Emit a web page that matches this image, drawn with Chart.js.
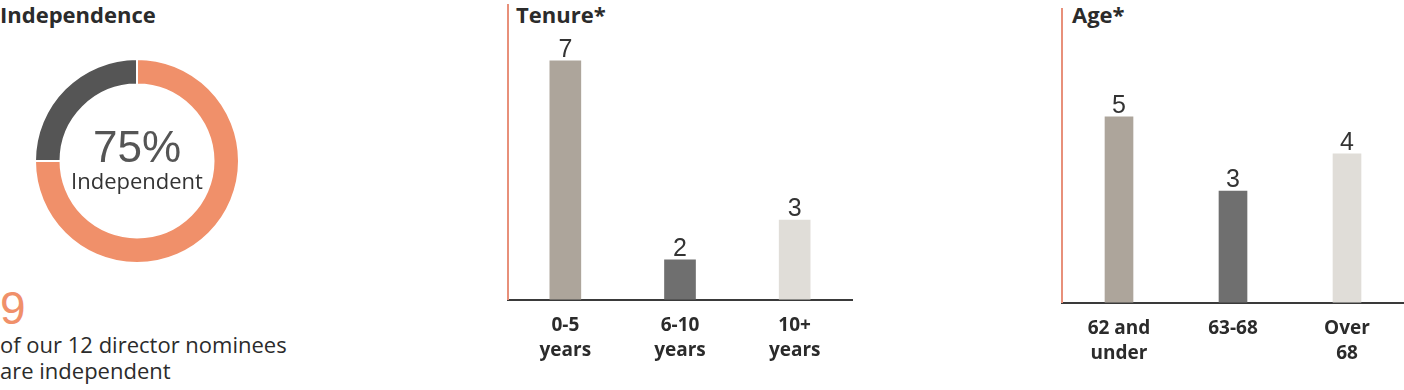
<!DOCTYPE html>
<html>
<head>
<meta charset="utf-8">
<script src="https://cdn.jsdelivr.net/npm/chart.js@4/dist/chart.umd.min.js"></script>
<style>
  body { margin: 0; background: #fff; width: 1404px; height: 390px; position: relative; overflow: hidden; font-family: "Open Sans", "Liberation Sans", Arial, sans-serif; color: #333; }
  .abs { position: absolute; }
  .title { font-weight: bold; font-size: 22px; color: #2b2b2b; white-space: nowrap; line-height: 28px; }
  .num { font-family: "Liberation Sans", Arial, sans-serif; }
  canvas { position: absolute; }
</style>
</head>
<body>
  <div class="abs title" style="left:0; top:0;">Independence</div>
  <canvas id="donut" width="206" height="206" style="left:34px; top:58px;"></canvas>
  <div class="abs num" id="center-pct" style="left:37px; width:200px; top:123px; text-align:center; font-size:44px; color:#555; line-height:48px;"></div>
  <div class="abs" id="center-lbl" style="left:37px; width:200px; top:166px; text-align:center; font-size:22px; color:#333; line-height:28px;">Independent</div>
  <div class="abs num" id="big-num" style="left:0; top:284px; font-size:46px; color:#F0906A; line-height:48px;"></div>
  <div class="abs" style="left:0; top:331px; font-size:22px; color:#2b2b2b; line-height:26px;">of our 12 director nominees<br>are independent</div>

  <div class="abs title" style="left:516px; top:0;">Tenure*</div>
  <canvas id="tenure" width="360" height="390" style="left:500px; top:0;"></canvas>

  <div class="abs title" style="left:1072px; top:0;">Age*</div>
  <canvas id="age" width="350" height="390" style="left:1054px; top:0;"></canvas>

<script>
// === Data ===
const independenceLabels = ['Independent', 'Not independent'];
const independenceValues = [9, 3];
const totalNominees = 12;

const tenureLabels = [['0-5', 'years'], ['6-10', 'years'], ['10+', 'years']];
const tenureValues = [7, 2, 3];

const ageLabels = [['62 and', 'under'], ['63-68'], ['Over', '68']];
const ageValues = [5, 3, 4];

const barColors = ['#ADA59B', '#6F6F6F', '#E0DDD8'];
const fontFamily = '"Open Sans", "Liberation Sans", Arial, sans-serif';

// angka di atas batang
const valueLabels = {
  id: 'valueLabels',
  afterDatasetsDraw(chart) {
    const ctx = chart.ctx;
    const meta = chart.getDatasetMeta(0);
    ctx.save();
    ctx.font = '25px "Liberation Sans", Arial, sans-serif';
    ctx.fillStyle = '#333';
    ctx.textAlign = 'center';
    ctx.textBaseline = 'alphabetic';
    meta.data.forEach((bar, i) => {
      ctx.fillText(chart.data.datasets[0].data[i], bar.x, bar.y - 4);
    });
    ctx.restore();
  }
};

// === Donut ===
const pct = Math.round(independenceValues[0] / totalNominees * 100);
document.getElementById('center-pct').textContent = pct + '%';
document.getElementById('big-num').textContent = independenceValues[0];

new Chart(document.getElementById('donut'), {
  type: 'doughnut',
  data: {
    labels: independenceLabels,
    datasets: [{
      data: independenceValues,
      backgroundColor: ['#F0906A', '#555555'],
      borderColor: '#fff',
      borderWidth: 2
    }]
  },
  options: {
    responsive: false,
    animation: false,
    cutout: '75%',
    plugins: { legend: { display: false }, tooltip: { enabled: false } }
  }
});

// === Bar charts ===
function barChart(id, labels, values, yMin, yMax, barW, pad) {
  return new Chart(document.getElementById(id), {
    type: 'bar',
    data: {
      labels: labels,
      datasets: [{
        data: values,
        backgroundColor: barColors,
        barThickness: barW
      }]
    },
    options: {
      responsive: false,
      animation: false,
      layout: { padding: pad },
      scales: {
        x: {
          grid: { display: false },
          border: { color: '#3a3a3a', width: 2 },
          ticks: {
            color: '#2b2b2b',
            font: { family: fontFamily, size: 19, weight: 'bold', lineHeight: 1.3 },
            padding: 6,
            maxRotation: 0,
            autoSkip: false
          }
        },
        y: {
          min: yMin,
          max: yMax,
          grid: { display: false, drawTicks: false },
          border: { color: '#E8907A', width: 2 },
          ticks: { display: false }
        }
      },
      plugins: { legend: { display: false }, tooltip: { enabled: false } }
    },
    plugins: [valueLabels]
  });
}

barChart('tenure', tenureLabels, tenureValues, 1, 8.4, 31, { left: 8, right: 8, top: 5, bottom: 21 });
barChart('age', ageLabels, ageValues, 0, 7.9, 28, { left: 8, right: 0, top: 9, bottom: 18 });
</script>
</body>
</html>
